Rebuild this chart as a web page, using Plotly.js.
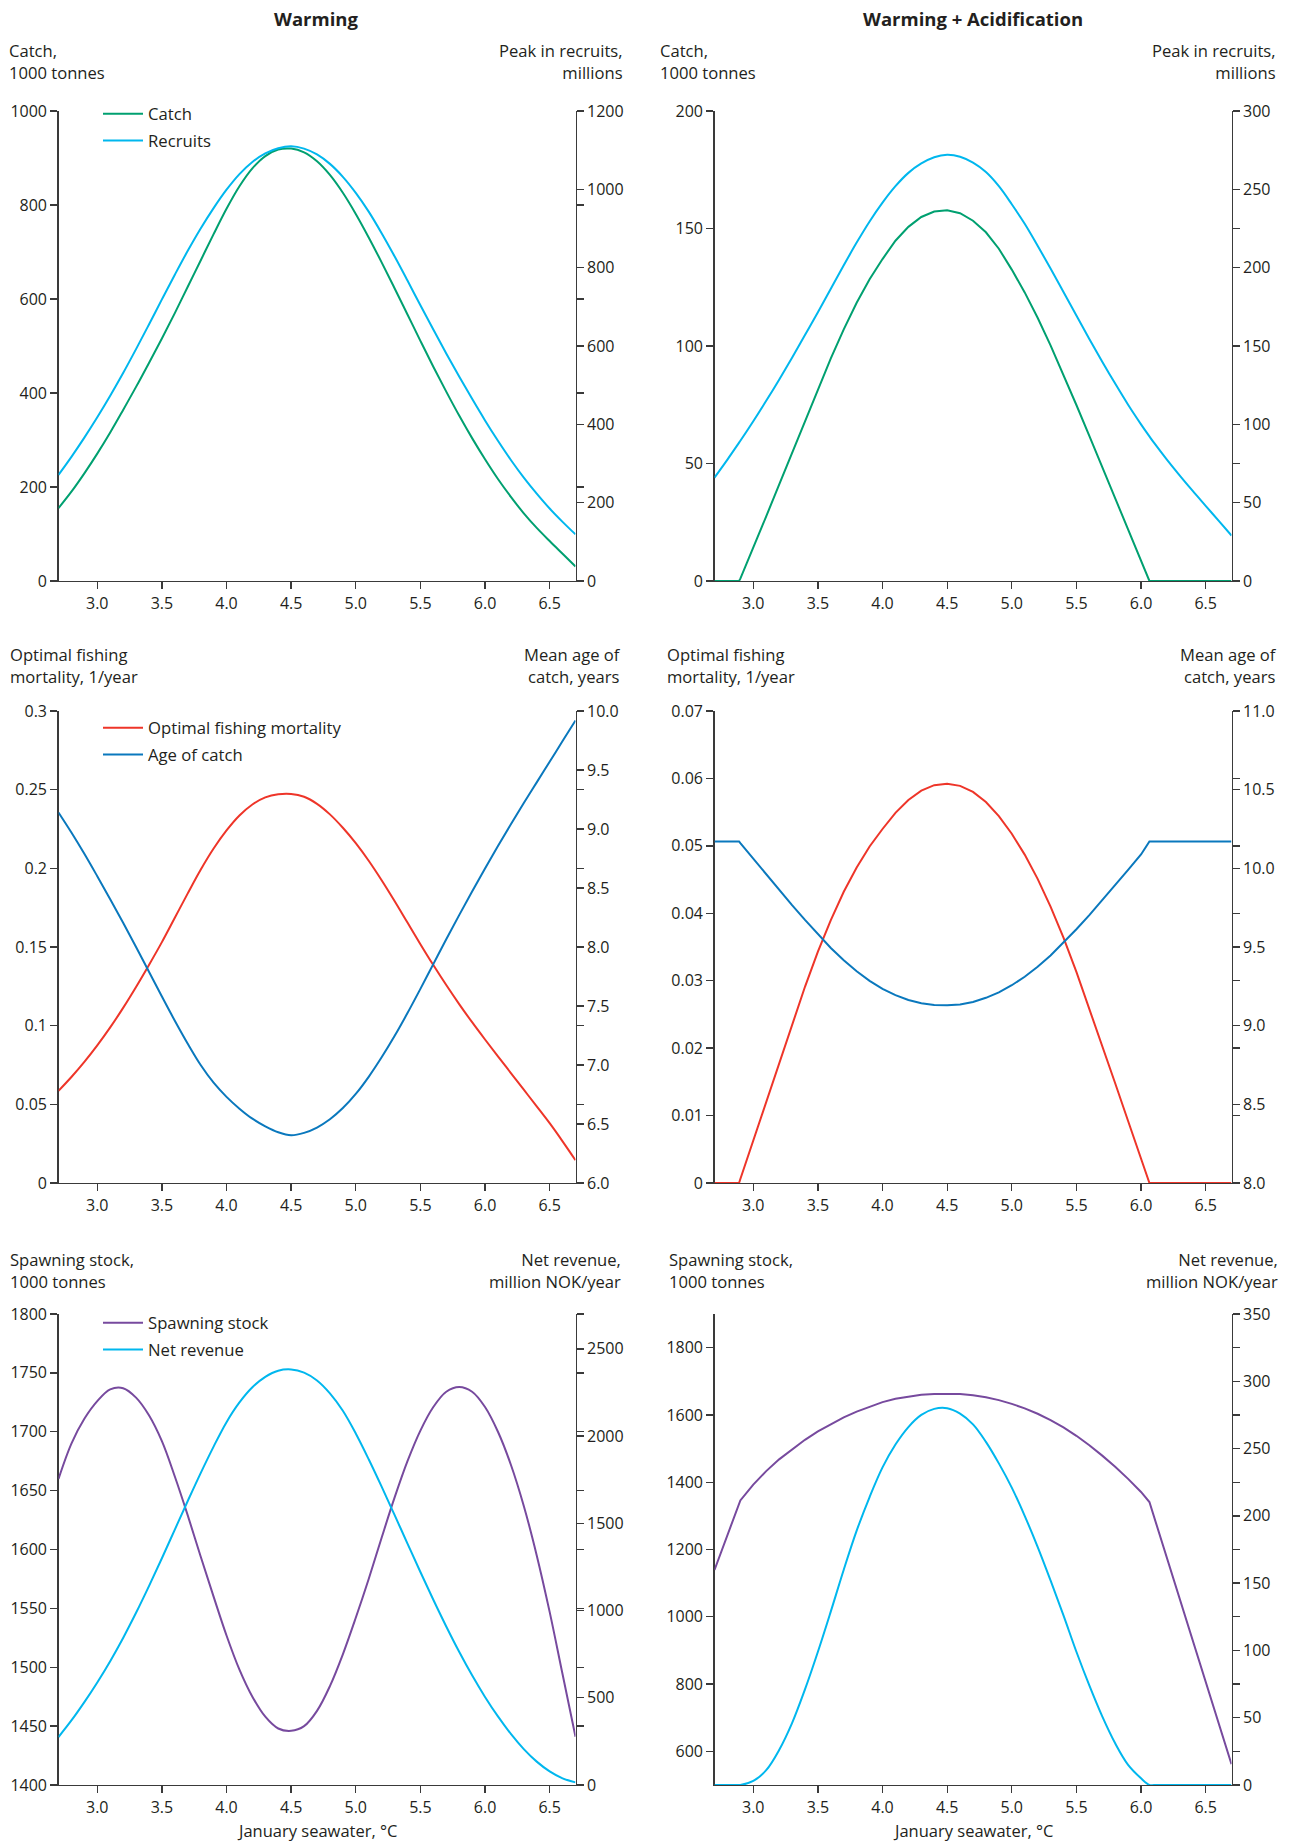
<!DOCTYPE html>
<html>
<head>
<meta charset="utf-8">
<script src="https://cdn.plot.ly/plotly-3.0.1.min.js"></script>
<style>
  html, body { margin: 0; padding: 0; background: #ffffff; }
  #chart { width: 1293px; height: 1843px; }
</style>
</head>
<body>
<div id="chart"></div>
<script>
// January seawater temperature, °C
const temperature = [2.7,2.8,2.9,3.0,3.1,3.2,3.3,3.4,3.5,3.6,3.7,3.8,3.9,4.0,4.1,4.2,4.3,4.4,4.5,4.6,4.7,4.8,4.9,5.0,5.1,5.2,5.3,5.4,5.5,5.6,5.7,5.8,5.9,6.0,6.1,6.2,6.3,6.4,6.5,6.6,6.7];
// same grid, with the two break points of the acidification runs added
const temperatureAcid = [2.7,2.8,2.89,2.9,3.0,3.1,3.2,3.3,3.4,3.5,3.6,3.7,3.8,3.9,4.0,4.1,4.2,4.3,4.4,4.5,4.6,4.7,4.8,4.9,5.0,5.1,5.2,5.3,5.4,5.5,5.6,5.7,5.8,5.9,6.0,6.065,6.1,6.2,6.3,6.4,6.5,6.6,6.7];

// Warming
const catchWarming = [155,190,229,271,316,364,413,464,516,570,626,682,738,792,840,878,904,918,920,912,893,864,826,781,731,678,623,567,511,456,403,352,304,259,217,179,144,113,85,58,31];
const recruitsWarming = [271,317,366,418,473,531,592,655,719,782,843,900,952,999,1039,1070,1092,1105,1110,1104,1089,1065,1032,991,943,888,829,767,704,642,581,522,465,410,358,309,264,223,185,151,119];
const fishingMortalityWarming = [0.0586,0.0674,0.0770,0.0875,0.0989,0.1113,0.1246,0.1386,0.1531,0.1686,0.1841,0.1991,0.2126,0.2241,0.2336,0.2406,0.2451,0.2471,0.2473,0.2455,0.2410,0.2343,0.2258,0.2160,0.2048,0.1924,0.1792,0.1655,0.1518,0.1385,0.1258,0.1137,0.1022,0.0912,0.0805,0.0699,0.0593,0.0487,0.0380,0.0265,0.0145];
const ageOfCatchWarming = [9.14,8.97,8.79,8.60,8.405,8.205,8.00,7.79,7.58,7.375,7.18,7.00,6.85,6.73,6.63,6.545,6.48,6.43,6.405,6.425,6.47,6.54,6.635,6.755,6.90,7.065,7.245,7.44,7.645,7.855,8.065,8.27,8.47,8.665,8.855,9.04,9.22,9.395,9.57,9.745,9.92];
const spawningStockWarming = [1660,1690,1711,1726,1736,1737,1729,1714,1692,1662,1629,1594,1560,1527,1498,1475,1458,1448,1446,1450,1463,1484,1511,1542,1575,1610,1644,1675,1701,1721,1734,1738,1734,1721,1700,1672,1637,1595,1547,1494,1441];
const netRevenueWarming = [275,370,475,588,710,843,987,1140,1300,1464,1628,1788,1940,2080,2193,2280,2340,2375,2382,2364,2319,2245,2145,2015,1867,1710,1548,1384,1221,1062,909,764,629,505,393,293,206,134,78,38,15];

// Warming + Acidification
const catchAcid = [0,0,0,1.0,14.0,27.5,41.0,54.5,68.0,81.5,94.7,107.1,118.4,128.4,137.0,144.8,150.7,154.9,157.2,157.8,156.5,153.3,148.4,141.4,132.5,122.8,112.0,100.3,87.8,74.9,61.8,48.6,35.4,22.2,8.8,0,0,0,0,0,0,0,0];
const recruitsAcid = [66,77.5,88.3,89.5,102,115,128.5,142.5,157,171.5,186.5,201.5,216,229.5,241.5,252,260.5,266.5,270.5,272,270.8,267,261,252,240.5,228,214,199.5,184.5,169.5,154.5,140,126,112.5,100,92.3,88.3,77.5,67.3,57.5,48,38.5,29];
const fishingMortalityAcid = [0,0,0,0.0006,0.0063,0.0120,0.0177,0.0234,0.0291,0.0343,0.0390,0.0432,0.0468,0.0499,0.0525,0.0549,0.0568,0.0582,0.0590,0.0592,0.0589,0.0580,0.0565,0.0544,0.0518,0.0487,0.0451,0.0410,0.0364,0.0313,0.0259,0.0203,0.0148,0.0092,0.0036,0,0,0,0,0,0,0,0];
const ageOfCatchAcid = [10.171,10.171,10.171,10.16,10.06,9.96,9.862,9.766,9.672,9.58,9.494,9.416,9.346,9.285,9.234,9.194,9.163,9.142,9.131,9.129,9.135,9.151,9.177,9.212,9.257,9.311,9.374,9.446,9.527,9.613,9.703,9.797,9.893,9.99,10.088,10.171,10.171,10.171,10.171,10.171,10.171,10.171,10.171];
const spawningStockAcid = [1139,1245,1341,1346,1393,1433,1468,1498,1526,1551,1573,1593,1610,1625,1638,1648,1655,1660,1662.5,1663,1662,1658.5,1652.5,1644,1633,1619.5,1603.5,1584.5,1563,1538,1510,1479,1446,1410,1371,1341,1298,1175,1052,929,807,684,562];
const netRevenueAcid = [0,0,0,0,3,11,26,46,71,99,129,160,189,214,236,253,266,275,279.5,280,276,268,255,239,221,200,177,152,126,99,74,51,31,15,5,0,0,0,0,0,0,0,0];

// tick values and labels
const xTickVals = [3.0,3.5,4.0,4.5,5.0,5.5,6.0,6.5];
const xTickText = ['3.0','3.5','4.0','4.5','5.0','5.5','6.0','6.5'];

const catchWarmingTicks = [0,200,400,600,800,1000];
const recruitsWarmingTicks = [0,200,400,600,800,1000,1200];
const catchAcidTicks = [0,50,100,150,200];
const recruitsAcidTicks = [0,50,100,150,200,250,300];
const mortalityWarmingTicks = [0,0.05,0.1,0.15,0.2,0.25,0.3];
const mortalityWarmingLabels = ['0','0.05','0.1','0.15','0.2','0.25','0.3'];
const ageWarmingTicks = [6,6.5,7,7.5,8,8.5,9,9.5,10];
const ageWarmingLabels = ['6.0','6.5','7.0','7.5','8.0','8.5','9.0','9.5','10.0'];
const mortalityAcidTicks = [0,0.01,0.02,0.03,0.04,0.05,0.06,0.07];
const mortalityAcidLabels = ['0','0.01','0.02','0.03','0.04','0.05','0.06','0.07'];
const ageAcidTicks = [8,8.5,9,9.5,10,10.5,11];
const ageAcidLabels = ['8.0','8.5','9.0','9.5','10.0','10.5','11.0'];
const stockWarmingTicks = [1400,1450,1500,1550,1600,1650,1700,1750,1800];
const revenueWarmingTicks = [0,500,1000,1500,2000,2500];
const stockAcidTicks = [600,800,1000,1200,1400,1600,1800];
const revenueAcidTicks = [0,50,100,150,200,250,300,350];

const FONT = "'Open Sans', 'Noto Sans', sans-serif";
const TEXT = '#231f20';
const AXIS = '#3a3a3a';
const GREEN = '#00a070';
const CYAN = '#00b7ee';
const RED = '#ee3529';
const BLUE = '#0a78bd';
const PURPLE = '#774a9e';

const W = 1293, H = 1843;
const colPx = [[58.5, 575.5], [714.5, 1231.5]];
const rowPx = [[111, 581], [711, 1183], [1314, 1785]];
const fx = p => p / W;
const fy = p => 1 - p / H;

// panel definitions: left axis (first series) and right axis (second series)
const panels = [
  { left: { range: [0, 1000], ticks: catchWarmingTicks },
    right: { range: [0, 1200], ticks: recruitsWarmingTicks } },
  { left: { range: [0, 200], ticks: catchAcidTicks },
    right: { range: [0, 300], ticks: recruitsAcidTicks } },
  { left: { range: [0, 0.3], ticks: mortalityWarmingTicks, labels: mortalityWarmingLabels },
    right: { range: [6, 10], ticks: ageWarmingTicks, labels: ageWarmingLabels } },
  { left: { range: [0, 0.07], ticks: mortalityAcidTicks, labels: mortalityAcidLabels },
    right: { range: [8, 11], ticks: ageAcidTicks, labels: ageAcidLabels } },
  { left: { range: [1400, 1800], ticks: stockWarmingTicks },
    right: { range: [0, 2700], ticks: revenueWarmingTicks } },
  { left: { range: [500, 1900], ticks: stockAcidTicks },
    right: { range: [0, 350], ticks: revenueAcidTicks } }
];

const axisBase = {
  showline: true, linecolor: AXIS, linewidth: 1.3,
  ticks: 'outside', ticklen: 7, tickwidth: 1.3, tickcolor: AXIS,
  showgrid: false, zeroline: false, fixedrange: true,
  tickfont: { family: FONT, size: 16, color: TEXT },
  layer: 'below traces'
};

const sfx = n => (n === 1 ? '' : String(n));
const layout = {
  width: W, height: H, autosize: false,
  margin: { l: 0, r: 0, t: 0, b: 0, pad: 0 },
  paper_bgcolor: '#ffffff', plot_bgcolor: '#ffffff',
  font: { family: FONT, size: 16, color: TEXT },
  showlegend: true,
  annotations: []
};

panels.forEach((p, k) => {
  const n = k + 1;
  const col = k % 2, row = Math.floor(k / 2);
  const rightId = n + 6;
  layout['xaxis' + sfx(n)] = Object.assign({}, axisBase, {
    domain: [fx(colPx[col][0]), fx(colPx[col][1])],
    range: [2.7, 6.7], anchor: 'y' + sfx(n),
    tickmode: 'array', tickvals: xTickVals, ticktext: xTickText
  });
  layout['yaxis' + sfx(n)] = Object.assign({}, axisBase, {
    domain: [fy(rowPx[row][1]), fy(rowPx[row][0])],
    range: p.left.range, anchor: 'x' + sfx(n), side: 'left',
    tickmode: 'array', tickvals: p.left.ticks,
    ticktext: p.left.labels || p.left.ticks.map(String)
  });
  // the right axis also carries short marks level with the left axis ticks
  const L = p.left.range, R = p.right.range;
  const mirrored = p.left.ticks.map(v => R[0] + (v - L[0]) / (L[1] - L[0]) * (R[1] - R[0]));
  layout['yaxis' + rightId] = Object.assign({}, axisBase, {
    overlaying: 'y' + sfx(n), anchor: 'x' + sfx(n), side: 'right',
    range: R, tickmode: 'array', tickvals: p.right.ticks,
    ticktext: p.right.labels || p.right.ticks.map(String),
    minor: { tickmode: 'array', tickvals: mirrored, ticks: 'outside',
             ticklen: 7, tickwidth: 1.3, tickcolor: AXIS, showgrid: false }
  });
});

// smooth curves are drawn as splines, runs with break points as straight segments
function line(x, y, n, onRight, name, color, legendId, shape) {
  const ln = { color: color, width: 2, shape: shape || 'spline' };
  if (ln.shape === 'spline') ln.smoothing = 1;
  return {
    type: 'scatter', mode: 'lines', x: x, y: y, name: name,
    xaxis: 'x' + sfx(n), yaxis: 'y' + (onRight ? String(n + 6) : sfx(n)),
    line: ln, hoverinfo: 'skip',
    showlegend: !!legendId, legend: legendId || 'legend',
    legendgroup: name
  };
}

const data = [
  line(temperature, catchWarming, 1, false, 'Catch', GREEN, 'legend'),
  line(temperature, recruitsWarming, 1, true, 'Recruits', CYAN, 'legend'),
  line(temperatureAcid, recruitsAcid, 2, true, 'Recruits', CYAN, null),
  line(temperatureAcid, catchAcid, 2, false, 'Catch', GREEN, null, 'linear'),
  line(temperature, fishingMortalityWarming, 3, false, 'Optimal fishing mortality', RED, 'legend2'),
  line(temperature, ageOfCatchWarming, 3, true, 'Age of catch', BLUE, 'legend2'),
  line(temperatureAcid, fishingMortalityAcid, 4, false, 'Optimal fishing mortality', RED, null, 'linear'),
  line(temperatureAcid, ageOfCatchAcid, 4, true, 'Age of catch', BLUE, null, 'linear'),
  line(temperature, spawningStockWarming, 5, false, 'Spawning stock', PURPLE, 'legend3'),
  line(temperature, netRevenueWarming, 5, true, 'Net revenue', CYAN, 'legend3'),
  line(temperatureAcid, netRevenueAcid, 6, true, 'Net revenue', CYAN, null),
  line(temperatureAcid, spawningStockAcid, 6, false, 'Spawning stock', PURPLE, null, 'linear')
];

const legendBase = {
  xanchor: 'left', yanchor: 'top', bgcolor: 'rgba(255,255,255,0)',
  borderwidth: 0, font: { family: FONT, size: 16.7, color: TEXT },
  traceorder: 'grouped', tracegroupgap: 2, itemwidth: 40
};
layout.legend = Object.assign({}, legendBase, { x: fx(98), y: fy(96.5) });
layout.legend2 = Object.assign({}, legendBase, { x: fx(98), y: fy(710.5) });
layout.legend3 = Object.assign({}, legendBase, { x: fx(98), y: fy(1305.5) });

function note(text, xpx, ypx, anchor, size) {
  layout.annotations.push({
    text: text, xref: 'paper', yref: 'paper', x: fx(xpx), y: fy(ypx),
    xanchor: anchor, yanchor: 'middle', align: anchor === 'center' ? 'center' : anchor,
    showarrow: false, borderpad: 0,
    font: { family: FONT, size: size || 16.6, color: TEXT }
  });
}

// column headings
note('<b>Warming</b>', 316, 19, 'center', 18.5);
note('<b>Warming + Acidification</b>', 973, 19, 'center', 18.5);

// axis captions
note('Catch,<br>1000 tonnes', 8, 62, 'left');
note('Peak in recruits,<br>millions', 624, 62, 'right');
note('Catch,<br>1000 tonnes', 659, 62, 'left');
note('Peak in recruits,<br>millions', 1277, 62, 'right');

note('Optimal fishing<br>mortality, 1/year', 9, 665, 'left');
note('Mean age of<br>catch, years', 622, 665, 'right');
note('Optimal fishing<br>mortality, 1/year', 666, 665, 'left');
note('Mean age of<br>catch, years', 1278, 665, 'right');

note('Spawning stock,<br>1000 tonnes', 9, 1270, 'left');
note('Net revenue,<br>million NOK/year', 622, 1270, 'right');
note('Spawning stock,<br>1000 tonnes', 668, 1270, 'left');
note('Net revenue,<br>million NOK/year', 1279, 1270, 'right');

note('January seawater, °C', 317, 1830, 'center', 16.5);
note('January seawater, °C', 973, 1830, 'center', 16.5);

Plotly.newPlot('chart', data, layout, { displayModeBar: false, staticPlot: true });
</script>
</body>
</html>
